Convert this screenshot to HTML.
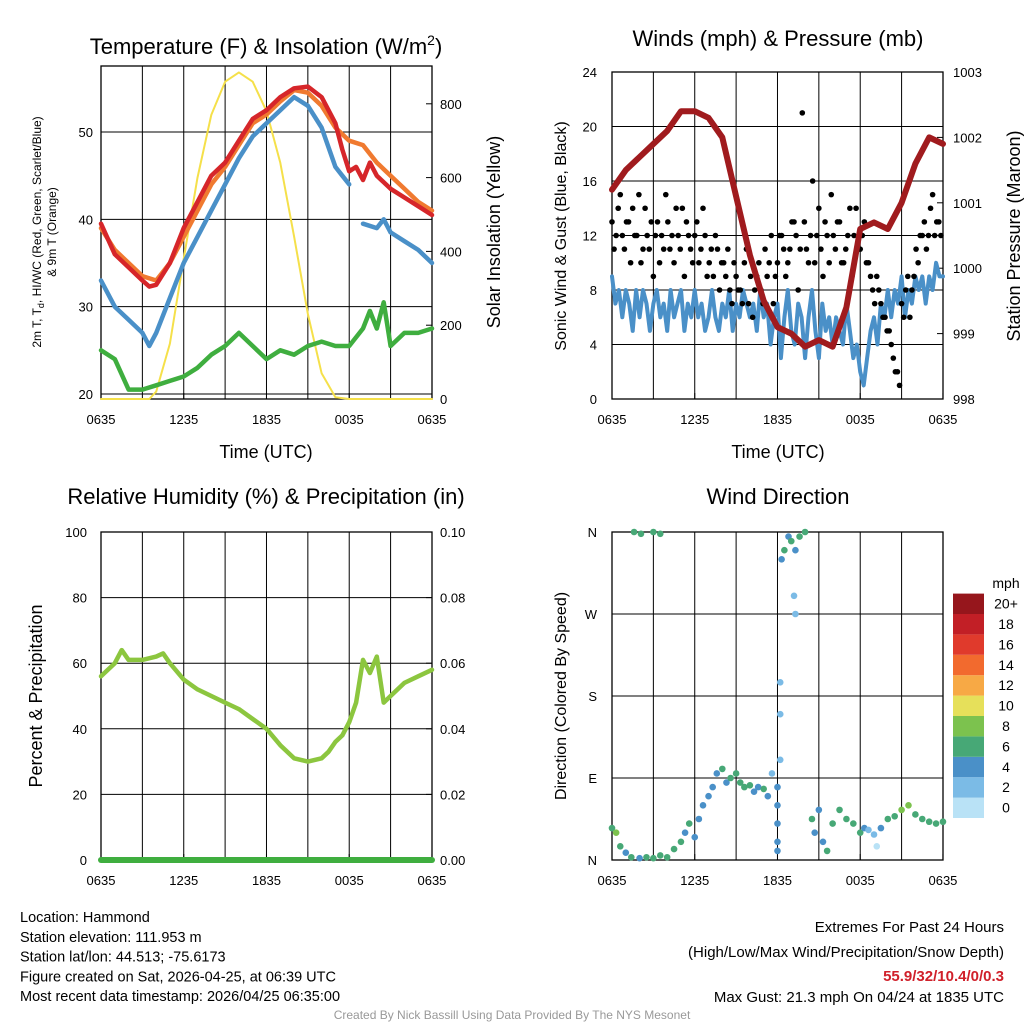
<!DOCTYPE html>
<html><head><meta charset="utf-8"><style>
html,body{margin:0;padding:0;background:#fff;}
svg{display:block;font-family:"Liberation Sans",sans-serif;}
</style></head><body>
<svg id="c" width="1024" height="1024" viewBox="0 0 1024 1024"></svg>
<script>
// ---- data (time in hours since 0635 UTC) ----
const tempT=[0,1,2,3,3.5,4,5,6,7,8,9,10,11,12,13,14,15,16,17,17.5,18,18.5,19,19.5,20,21,22,23,24];
const tempRed=[39.5,36,34.5,33,32.3,32.5,35,39,42,45,46.5,49,51.5,52.5,54,55,55.2,54,51,48,45.5,46,44.5,46.5,45,43.5,42.5,41.5,40.5];
const orangeT=[0,1,2,3,4,5,6,7,8,9,10,11,12,13,14,15,16,17,18,19,20,21,22,23,24];
const tempOrange=[39,36.5,35,33.5,33,35,38,41,44,46,48.5,51,52,53.5,54.8,54.5,53,50.5,49,48.5,46.5,45,43.5,42,41];
const blueT1=[0,1,2,3,3.5,4,5,6,7,8,9,10,11,12,13,14,15,16,17,17.5,18];
const tempBlue1=[33,30,28.5,27,25.5,27,31,35,38,41,44,47,49.5,51,52.5,54,53,50.5,46,45,44];
const blueT2=[19,20,20.5,21,22,23,24];
const tempBlue2=[39.5,39,40,38.5,37.5,36.5,35];
const greenT=[0,1,2,3,4,5,6,7,8,9,10,11,12,13,14,15,16,17,18,19,19.5,20,20.5,21,22,23,24];
const tempGreen=[25,24,20.5,20.5,21,21.5,22,23,24.5,25.5,27,25.5,24,25,24.5,25.5,26,25.5,25.5,27.5,29.5,27.5,30.5,25.5,27,27,27.5];
const solarT=[0,1,2,3,3.5,4,5,6,7,8,9,10,11,12,13,14,15,16,17,18,24];
const solar=[0,0,0,0,0,20,150,380,600,770,860,885,860,780,640,440,230,70,5,0,0];
const pressT=[0,1,2,3,4,5,6,7,8,9,10,11,12,13,14,15,16,17,18,19,20,21,22,23,24];
const pressure=[1001.2,1001.5,1001.7,1001.9,1002.1,1002.4,1002.4,1002.3,1002.0,1001.1,1000.2,999.5,999.1,999.0,998.8,998.9,998.8,999.4,1000.6,1000.7,1000.6,1001.0,1001.6,1002.0,1001.9];
const windSpeed=[9,7,8,6,8,7,5,8,6, 8,7,5,7,8,6,7,5, 8,6,7,8,5,7,6,8, 6,7,5,6,8,6,5,7, 6,8,5,7,6,8,7,6, 7,5,8,6,7,4,6,7, 3,6,8,5,4,7,6,3, 6,8,5,3,7,5,6,4, 6,5,4,7,5,3,4,2, 1,3,5,6,4,7,6,8, 6,8,7,9,6,8,7,9, 8,9,7,9,8,10,9,9];
const gustA=[13,12,15,11,13,14,12,10,14,11,9,13,12,15,11,10,12,14,13,11,12,10,14,9,11,12,8,10,11,7,9,8,10,7,6,9,8,11,10,7,10,12,9,11,13,8,21,11,12,10,14,9,12,15,11,13,10,12,9,14,11,13,10,8,9,7,6,5,3,2,7,8,6,9,10,12,11,14,12,13];
const gustB=[11,14,12,13,10,12,15,11,12,13,12,10,11,13,12,14,11,9,12,10,13,11,12,10,9,11,10,9,8,10,8,7,11,9,8,10,7,9,12,9,12,11,10,13,12,11,13,10,16,12,11,13,10,12,13,10,11,14,12,11,12,10,9,7,8,6,5,4,2,1,6,9,8,11,12,13,12,15,13,12];
const rhT=[0,1,1.5,2,3,4,4.5,5,6,7,8,9,10,11,12,13,14,15,16,16.5,17,17.5,18,18.5,19,19.5,20,20.5,21,22,23,24];
const rh=[56,60,64,61,61,62,63,60,55,52,50,48,46,43,40,35,31,30,31,33,36,38,42,48,61,57,62,48,50,54,56,58];
const dirT=[0,0.3,0.6,1,1.4,2,2.5,3,3.5,4,4.5,5,5.3,5.6,6,6.3,6.6,7,7.3,7.6,8,8.3,8.6,9,9.3,9.6,10,10.3,10.6,11,11.3,11.6,12,12,12,12,12,12.2,12.2,12.2,12.3,12.5,12.8,13,13.2,13.3,13.3,13.6,14,1.6,2.1,3,3.5,14.5,14.7,15,15.3,15.6,16,16.5,17,17.5,18,18.3,18.6,19,19.2,19.5,20,20.5,21,21.5,22,22.5,23,23.5,24];
const dirDeg=[35,30,15,8,3,2,3,2,5,3,12,20,30,40,25,45,60,70,80,95,100,85,90,95,85,80,82,75,80,78,70,95,80,60,40,20,10,110,160,195,330,340,355,350,290,270,340,355,360,360,358,360,358,45,30,55,20,10,40,55,45,40,30,35,33,28,15,35,45,48,55,60,50,45,42,40,42];
const dirSpd=[7,9,6,5,6,5,7,6,7,6,6,7,5,6,4,4,5,4,4,4,6,5,7,6,6,7,6,5,4,6,4,3,4,4,5,4,4,3,2,2,5,6,5,7,3,3,4,6,6,6,7,6,6,6,5,4,5,6,6,7,6,6,7,4,2,2,1,4,6,6,8,8,6,7,6,7,7];
const cbLabels=["0","2","4","6","8","10","12","14","16","18","20+"];
const cbColors=["#b9e2f6","#7bbbe6","#4a90c8","#47a876","#7cc24e","#e6e05a","#f7a945","#f26a2e","#e03a2c","#c21f26","#96161c"];

const S="http://www.w3.org/2000/svg", svg=document.getElementById('c');
function el(tag,attrs,parent,text){const e=document.createElementNS(S,tag);for(const k in attrs)e.setAttribute(k,attrs[k]);if(text!==undefined)e.textContent=text;(parent||svg).appendChild(e);return e;}
function txt(x,y,s,size,anchor,name,extra){const e=el('text',Object.assign({x:x,y:y,'font-size':size,'text-anchor':anchor||'middle',fill:'#000'},extra||{}),null,s);


return e;}
function line(xs,ys,color,w,name){const d=xs.map((x,i)=>(i?'L':'M')+x.toFixed(1)+' '+ys[i].toFixed(1)).join('');const p=el('path',{d:d,fill:'none',stroke:color,'stroke-width':w,'stroke-linejoin':'round','stroke-linecap':'round'});


return p;}
const xA=t=>101+t*13.79, xB=t=>612+t*13.79;
const xtl=["0635","1235","1835","0035","0635"];
function frame(x0,y0,x1,y1,yvals,yfun,name,xf){
  const g=el('g',{});
  
  
  for(let h=3;h<24;h+=3){el('line',{x1:xf(h),x2:xf(h),y1:y0,y2:y1,stroke:'#000','stroke-width':1},g);}
  yvals.forEach(v=>{const y=yfun(v);el('line',{x1:x0,x2:x1,y1:y,y2:y,stroke:'#000','stroke-width':1},g);});
  el('rect',{x:x0,y:y0,width:x1-x0,height:y1-y0,fill:'none',stroke:'#000','stroke-width':1.3},g);
  xtl.forEach((s,i)=>{const x=xf(i*6);el('line',{x1:x,x2:x,y1:y1,y2:y1-6,stroke:'#000'},g);txt(x,y1+25,s,13,'middle','x-tick-label');});
}
// Panel 1
const yT=v=>394-(v-20)*8.733, yS=v=>399-v*0.369;
frame(101,66,432,399,[20,30,40,50],yT,'temperature-panel',xA);
[20,30,40,50].forEach(v=>txt(93,yT(v)+5,String(v),13,'end','temp-y-tick'));
[0,200,400,600,800].forEach(v=>{txt(440,yS(v)+5,String(v),13,'start','solar-y-tick');el('line',{x1:432,x2:426,y1:yS(v),y2:yS(v),stroke:'#000'});});
line(solarT.map(xA),solar.map(yS),'#f5e04a',2,'solar-insolation-line');
line(greenT.map(xA),tempGreen.map(yT),'#3fae3f',4.5,'dewpoint-line');
line(blueT1.map(xA),tempBlue1.map(yT),'#4a90c8',4.5,'heat-index-line');
line(blueT2.map(xA),tempBlue2.map(yT),'#4a90c8',4.5,'heat-index-line-2');
line(orangeT.map(xA),tempOrange.map(yT),'#f07a30',4.5,'temp-9m-line');
line(tempT.map(xA),tempRed.map(yT),'#d6262a',4.5,'temp-2m-line');
const t1=txt(266,54,'Temperature (F) & Insolation (W/m',22,'middle','temperature-title');
el('tspan',{'font-size':14,dy:-9},t1,'2');el('tspan',{dy:9},t1,')');
txt(266,458,'Time (UTC)',18,'middle','x-axis-title');
txt(0,0,'2m T, T',12,'middle','temp-y-axis-title',{transform:'translate(41,232) rotate(-90)'}).innerHTML='2m T, T<tspan font-size="9" dy="3">d</tspan><tspan dy="-3">, HI/WC (Red, Green, Scarlet/Blue)</tspan>';
txt(0,0,'& 9m T (Orange)',12,'middle','temp-y-axis-title-2',{transform:'translate(56,232) rotate(-90)'});
txt(0,0,'Solar Insolation (Yellow)',18,'middle','solar-y-axis-title',{transform:'translate(500,232) rotate(-90)'});
// Panel 2
const yW=v=>399-v*13.625, yP=p=>399-(p-998)*65.4;
frame(612,72,943,399,[4,8,12,16,20],yW,'winds-panel',xB);
[0,4,8,12,16,20,24].forEach(v=>txt(597,yW(v)+5,String(v),13,'end','wind-y-tick'));
[998,999,1000,1001,1002,1003].forEach(v=>{txt(953,yP(v)+5,String(v),13,'start','pressure-y-tick');el('line',{x1:943,x2:937,y1:yP(v),y2:yP(v),stroke:'#000'});});
line(windSpeed.map((v,i)=>xB(i*0.25)),windSpeed.map(yW),'#4a90c8',4,'sonic-wind-line');
gustA.forEach((v,i)=>{const c=el('circle',{cx:xB(i*0.3),cy:yW(v),r:2.8,fill:'#000'});

});
gustB.forEach((v,i)=>{const c=el('circle',{cx:xB(i*0.3+0.15),cy:yW(v),r:2.8,fill:'#000'});

});
line(pressT.map(xB),pressure.map(yP),'#a01b1e',6,'pressure-line');
txt(778,46,'Winds (mph) & Pressure (mb)',22,'middle','winds-title');
txt(778,458,'Time (UTC)',18,'middle','x-axis-title-2');
txt(0,0,'Sonic Wind & Gust (Blue, Black)',16,'middle','wind-y-axis-title',{transform:'translate(566,236) rotate(-90)'});
txt(0,0,'Station Pressure (Maroon)',18,'middle','pressure-y-axis-title',{transform:'translate(1020,236) rotate(-90)'});
// Panel 3
const yR=v=>860-v*3.28;
frame(101,532,432,860,[20,40,60,80],yR,'humidity-panel',xA);
[0,20,40,60,80,100].forEach(v=>{txt(87,yR(v)+5,String(v),13,'end','rh-y-tick');txt(440,yR(v)+5,(v/1000).toFixed(2),13,'start','precip-y-tick');el('line',{x1:432,x2:426,y1:yR(v),y2:yR(v),stroke:'#000'});});
line(rhT.map(xA),rh.map(yR),'#8cc63f',4.5,'relative-humidity-line');
line([xA(0),xA(24)],[yR(0),yR(0)],'#3fae3f',6,'precipitation-line');
txt(266,504,'Relative Humidity (%) & Precipitation (in)',22,'middle','humidity-title');
txt(0,0,'Percent & Precipitation',18,'middle','rh-y-axis-title',{transform:'translate(42,696) rotate(-90)'});
// Panel 4
const yD=d=>860-d*0.9111;
frame(612,532,943,860,[90,180,270],yD,'wind-direction-panel',xB);
[['N',0],['E',90],['S',180],['W',270],['N',360]].forEach(a=>{txt(597,yD(a[1])+5,a[0],13,'end','direction-tick');el('line',{x1:612,x2:618,y1:yD(a[1]),y2:yD(a[1]),stroke:'#000'});});
function spdColor(s){return cbColors[Math.min(10,Math.floor(s/2))];}
dirT.forEach((t,i)=>{const c=el('circle',{cx:xB(t),cy:yD(dirDeg[i]),r:3.3,fill:spdColor(dirSpd[i])});

});
txt(778,504,'Wind Direction',22,'middle','wind-direction-title');
txt(0,0,'Direction (Colored By Speed)',16,'middle','direction-y-axis-title',{transform:'translate(566,696) rotate(-90)'});
txt(1006,588,'mph',14,'middle','colorbar-unit');
cbColors.forEach((c,i)=>{const y=818-(i+1)*20.4;const r=el('rect',{x:953,y:y,width:31,height:20.4,fill:c});


txt(1006,y+15,cbLabels[i],14,'middle','colorbar-label');});
// footer
['Location: Hammond','Station elevation: 111.953 m','Station lat/lon: 44.513; -75.6173','Figure created on Sat, 2026-04-25, at 06:39 UTC','Most recent data timestamp: 2026/04/25 06:35:00'].forEach((s,i)=>txt(20,922+i*19.8,s,14.5,'start','station-info-line'));
txt(1004,932,'Extremes For Past 24 Hours',15,'end','extremes-heading');
txt(1004,957,'(High/Low/Max Wind/Precipitation/Snow Depth)',15,'end','extremes-subheading');
txt(1004,981,'55.9/32/10.4/0/0.3',15,'end','extremes-values',{fill:'#d0202a','font-weight':'bold'});
txt(1004,1002,'Max Gust: 21.3 mph On 04/24 at 1835 UTC',15,'end','max-gust');
txt(512,1019,'Created By Nick Bassill Using Data Provided By The NYS Mesonet',12,'middle','credit',{fill:'#999'});
</script>
</body></html>
